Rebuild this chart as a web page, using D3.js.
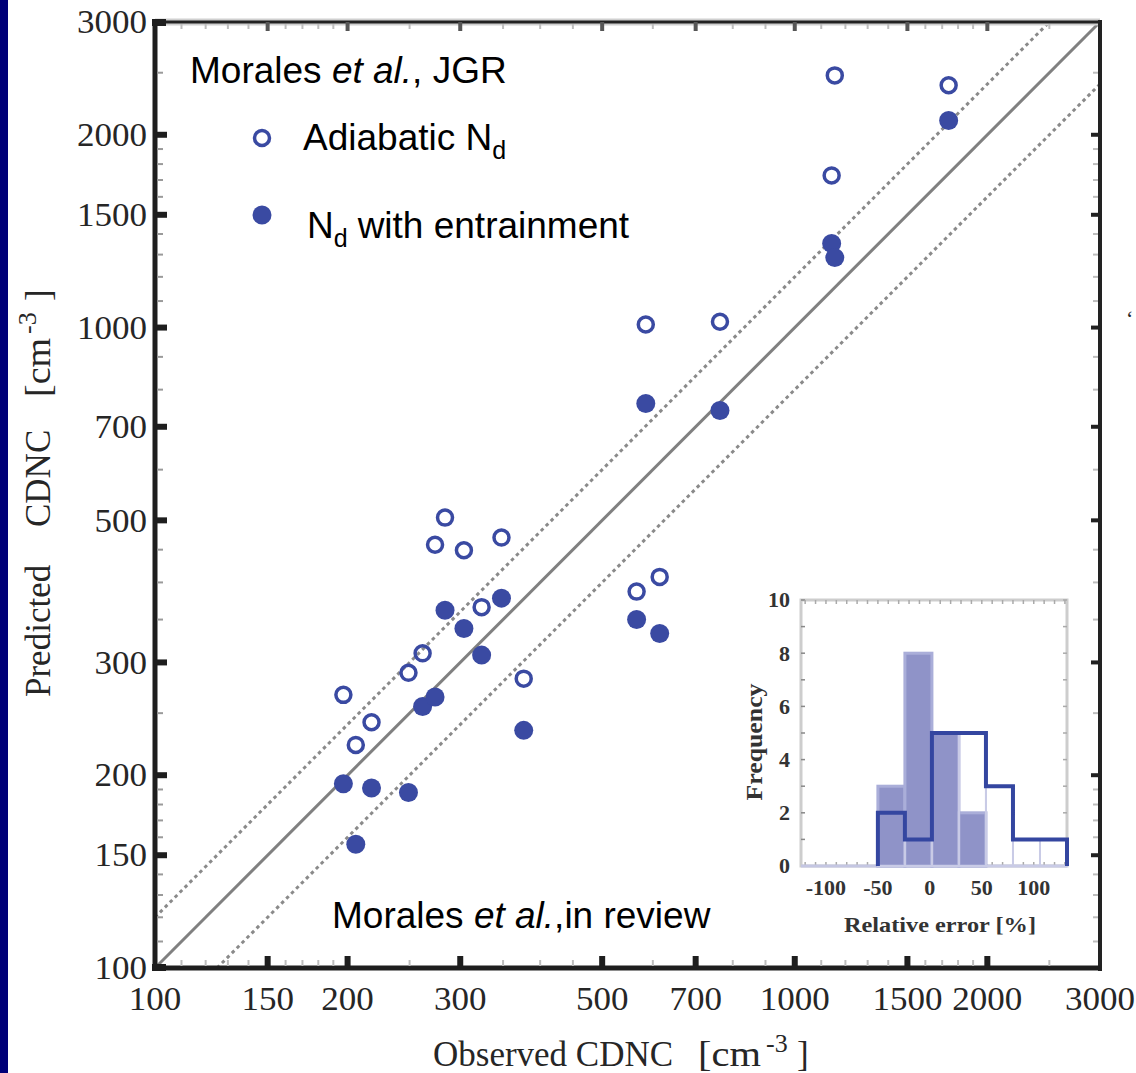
<!DOCTYPE html>
<html>
<head>
<meta charset="utf-8">
<script src="https://cdn.jsdelivr.net/npm/d3@7"></script>
<style>
  html, body { margin: 0; padding: 0; background: #fff; }
  svg { display: block; }
  .serif { font-family: "Liberation Serif", "DejaVu Serif", serif; }
  .sans { font-family: "Liberation Sans", Arial, sans-serif; }
</style>
</head>
<body>
<svg id="chart" width="1136" height="1073"></svg>
<script>
// Observed cloud droplet number concentration and the two predictions (cm^-3)
const observed    = [197, 206, 218, 249, 262, 274, 284, 304, 324, 348, 377, 566, 585, 615, 764, 1142, 1155, 1740];
const adiabatic   = [267, 223, 242, 289, 310, 458, 505, 449, 366, 470, 283, 387, 1011, 408, 1021, 1728, 2476, 2390];
const entrainment = [194, 156, 191, 188, 256, 265, 362, 339, 308, 378, 235, 350, 761, 333, 742, 1353, 1286, 2105];

// Log axis ticks
const majorTicks = [100, 150, 200, 300, 500, 700, 1000, 1500, 2000, 3000];
const minorTicks = [110, 120, 130, 140, 160, 170, 180, 190, 250, 350, 400, 450, 600, 800, 900,
                    1100, 1200, 1300, 1400, 1600, 1700, 1800, 1900, 2500];

// Relative error histogram (%)
const binEdges = [-50, -24, 2, 28, 54, 80, 106, 132];
const countsEntrainment = [3, 8, 5, 2, 0, 0, 0];
const countsAdiabatic   = [2, 1, 5, 5, 3, 1, 1];
const histXTicks = [-100, -50, 0, 50, 100];
const histYTicks = [0, 2, 4, 6, 8, 10];

// One-to-one line and the +/-20 % band
const bandFactors = [1.2, 0.8];

const blue = "#3a4aa2";
const svg = d3.select("#chart");

// slide edge
svg.append("rect").attr("x", 0).attr("y", 0).attr("width", 8).attr("height", 1073).attr("fill", "#000078");

const x = d3.scaleLog().domain([100, 3000]).range([155, 1100]);
const y = d3.scaleLog().domain([100, 3000]).range([968, 22]);

const plot = svg.append("g");

// reference lines
const lineGen = d3.line().x(d => x(d[0])).y(d => y(d[1]));
plot.append("path")
  .attr("d", lineGen([[100, 100], [3000, 3000]]))
  .attr("stroke", "#808080").attr("stroke-width", 3).attr("fill", "none");
bandFactors.forEach(f => {
  const x0 = Math.max(100, 100 / f), x1 = Math.min(3000, 3000 / f);
  plot.append("path")
    .attr("d", lineGen([[x0, x0 * f], [x1, x1 * f]]))
    .attr("stroke", "#8a8a8a").attr("stroke-width", 3)
    .attr("stroke-dasharray", "3.5 3.5").attr("fill", "none");
});

// axes frame
const frame = svg.append("g");
frame.append("line").attr("x1", x(100)).attr("x2", x(3000)).attr("y1", y(3000)).attr("y2", y(3000))
  .attr("stroke", "#d0d0d0").attr("stroke-width", 7);
frame.append("line").attr("x1", x(100)).attr("x2", x(3000)).attr("y1", y(3000)).attr("y2", y(3000))
  .attr("stroke", "#222").attr("stroke-width", 3);
frame.append("line").attr("x1", x(3000)).attr("x2", x(3000)).attr("y1", y(3000) - 2).attr("y2", y(100) + 3)
  .attr("stroke", "#222").attr("stroke-width", 4);
frame.append("line").attr("x1", x(100)).attr("x2", x(100)).attr("y1", y(3000) - 3).attr("y2", y(100) + 3)
  .attr("stroke", "#1e1e1e").attr("stroke-width", 5);
frame.append("line").attr("x1", x(100) - 3).attr("x2", x(3000)).attr("y1", y(100)).attr("y2", y(100))
  .attr("stroke", "#1e1e1e").attr("stroke-width", 5);

// minor ticks
minorTicks.forEach(v => {
  frame.append("line").attr("x1", x(v)).attr("x2", x(v)).attr("y1", y(100) - 2).attr("y2", y(100) - 8)
    .attr("stroke", "#bdbdbd").attr("stroke-width", 2);
  frame.append("line").attr("x1", x(v)).attr("x2", x(v)).attr("y1", y(3000) + 2).attr("y2", y(3000) + 7)
    .attr("stroke", "#bdbdbd").attr("stroke-width", 2);
  frame.append("line").attr("y1", y(v)).attr("y2", y(v)).attr("x1", x(100) + 2).attr("x2", x(100) + 8)
    .attr("stroke", "#9a9a9a").attr("stroke-width", 2);
  frame.append("line").attr("y1", y(v)).attr("y2", y(v)).attr("x1", x(3000) - 2).attr("x2", x(3000) - 7)
    .attr("stroke", "#bdbdbd").attr("stroke-width", 2);
});

// major ticks
const inner = majorTicks.slice(1, -1);
inner.forEach(v => {
  frame.append("line").attr("x1", x(v)).attr("x2", x(v)).attr("y1", y(100)).attr("y2", y(100) - 12)
    .attr("stroke", "#1e1e1e").attr("stroke-width", 6);
  frame.append("line").attr("y1", y(v)).attr("y2", y(v)).attr("x1", x(100)).attr("x2", x(100) + 12)
    .attr("stroke", "#1e1e1e").attr("stroke-width", 6);
  frame.append("line").attr("x1", x(v)).attr("x2", x(v)).attr("y1", y(3000)).attr("y2", y(3000) + 9)
    .attr("stroke", "#555").attr("stroke-width", 4);
  frame.append("line").attr("y1", y(v)).attr("y2", y(v)).attr("x1", x(3000)).attr("x2", x(3000) - 9)
    .attr("stroke", "#222").attr("stroke-width", 4);
});
frame.append("rect").attr("x", x(100) - 3).attr("y", y(3000) - 3).attr("width", 14).attr("height", 7).attr("fill", "#1e1e1e");
frame.append("rect").attr("x", x(100) - 3).attr("y", y(100) - 4).attr("width", 14).attr("height", 7).attr("fill", "#1e1e1e");

// tick labels
const tickFont = 33;
svg.append("g").selectAll("text").data(majorTicks).join("text")
  .attr("class", "serif").attr("font-size", tickFont).attr("fill", "#262626")
  .attr("text-anchor", "end").attr("x", 147).attr("y", d => y(d)).attr("dy", "0.34em")
  .attr("textLength", d => String(d).length * 17.5).attr("lengthAdjust", "spacingAndGlyphs")
  .text(d => d);
svg.append("g").selectAll("text").data(majorTicks).join("text")
  .attr("class", "serif").attr("font-size", tickFont).attr("fill", "#262626")
  .attr("text-anchor", "middle").attr("x", d => x(d)).attr("y", 1010)
  .attr("textLength", d => String(d).length * 17.5).attr("lengthAdjust", "spacingAndGlyphs")
  .text(d => d);

// axis titles, words placed along the axis
function title(g, pieces) {
  pieces.forEach(p => {
    const t = g.append("text").attr("class", "serif").attr("fill", "#262626")
      .attr("font-size", p.size || 35).attr("x", p.at).attr("y", p.dy || 0).text(p.text);
    if (p.len) t.attr("textLength", p.len).attr("lengthAdjust", "spacingAndGlyphs");
  });
}
const xTitle = svg.append("g").attr("transform", "translate(0,1066)");
title(xTitle, [
  { text: "Observed CDNC", at: 433 },
  { text: "[cm", at: 698, len: 63 },
  { text: "-3", at: 766, size: 26, dy: -14 },
  { text: "]", at: 797 }
]);
const yTitle = svg.append("g").attr("transform", "translate(50,0) rotate(-90)");
title(yTitle, [
  { text: "Predicted", at: -697 },
  { text: "CDNC", at: -527 },
  { text: "[cm", at: -397, len: 59 },
  { text: "-3", at: -334, size: 26, dy: -14 },
  { text: "]", at: -301 }
]);

// data points
const pts = svg.append("g");
pts.selectAll("circle.adiab").data(observed).join("circle").attr("class", "adiab")
  .attr("cx", d => x(d)).attr("cy", (d, i) => y(adiabatic[i])).attr("r", 7.5)
  .attr("fill", "none").attr("stroke", blue).attr("stroke-width", 3.5);
pts.selectAll("circle.entr").data(observed).join("circle").attr("class", "entr")
  .attr("cx", d => x(d)).attr("cy", (d, i) => y(entrainment[i])).attr("r", 9.5)
  .attr("fill", blue);

// legend and annotations
const sansSize = 37;
const t1 = svg.append("text").attr("class", "sans").attr("font-size", sansSize).attr("x", 190).attr("y", 83);
t1.append("tspan").text("Morales ");
t1.append("tspan").attr("font-style", "italic").text("et al.");
t1.append("tspan").text(", JGR");

svg.append("circle").attr("cx", 262).attr("cy", 138).attr("r", 7.5).attr("fill", "none").attr("stroke", blue).attr("stroke-width", 3.5);
svg.append("circle").attr("cx", 262).attr("cy", 215).attr("r", 9.5).attr("fill", blue);

const t2 = svg.append("text").attr("class", "sans").attr("font-size", sansSize).attr("x", 303).attr("y", 150);
t2.append("tspan").text("Adiabatic N");
t2.append("tspan").attr("font-size", 25).attr("dy", 9).text("d");

const t3 = svg.append("text").attr("class", "sans").attr("font-size", sansSize).attr("x", 307).attr("y", 238);
t3.append("tspan").text("N");
t3.append("tspan").attr("font-size", 25).attr("dy", 9).text("d");
t3.append("tspan").attr("dy", -9).attr("dx", 10).text("with entrainment");

const t4 = svg.append("text").attr("class", "sans").attr("font-size", sansSize).attr("x", 332).attr("y", 928);
t4.append("tspan").text("Morales ");
t4.append("tspan").attr("font-style", "italic").text("et al.");
t4.append("tspan").text(",in review");

// small glyph fragment near the right edge of the slide
svg.append("text").attr("class", "serif").attr("font-size", 22).attr("fill", "#222")
  .attr("x", 1126).attr("y", 326).text("‘");

// ---- inset histogram of relative error ----
const hx = d3.scaleLinear().domain([-124, 132]).range([801, 1067]);
const hy = d3.scaleLinear().domain([0, 10]).range([866, 600]);
const inset = svg.append("g");
inset.append("rect").attr("x", hx.range()[0]).attr("y", hy.range()[1])
  .attr("width", hx.range()[1] - hx.range()[0]).attr("height", hy.range()[0] - hy.range()[1])
  .attr("fill", "#fff").attr("stroke", "#cdcdcd").attr("stroke-width", 3);

// frame ticks
d3.range(0, 11).forEach(v => {
  inset.append("line").attr("x1", hx(-124)).attr("x2", hx(-124) + 4).attr("y1", hy(v)).attr("y2", hy(v))
    .attr("stroke", "#888").attr("stroke-width", 1.5);
  inset.append("line").attr("x1", hx(132)).attr("x2", hx(132) - 4).attr("y1", hy(v)).attr("y2", hy(v))
    .attr("stroke", "#aaa").attr("stroke-width", 1.5);
});
d3.range(-120, 132, 10).forEach(v => {
  inset.append("line").attr("x1", hx(v)).attr("x2", hx(v)).attr("y1", hy(10)).attr("y2", hy(10) + 4)
    .attr("stroke", "#aaa").attr("stroke-width", 1.5);
  inset.append("line").attr("x1", hx(v)).attr("x2", hx(v)).attr("y1", hy(0)).attr("y2", hy(0) - 4)
    .attr("stroke", "#aaa").attr("stroke-width", 1.5);
});
inset.append("line").attr("x1", hx(-124)).attr("x2", hx(132)).attr("y1", hy(0)).attr("y2", hy(0))
  .attr("stroke", "#c4c6e2").attr("stroke-width", 3);

const bins = countsEntrainment.map((c, i) => ({ x0: binEdges[i], x1: binEdges[i + 1], ce: c, ca: countsAdiabatic[i] }));

// entrainment: filled bars
inset.selectAll("rect.be").data(bins.filter(b => b.ce > 0)).join("rect").attr("class", "be")
  .attr("x", b => hx(b.x0)).attr("width", b => hx(b.x1) - hx(b.x0))
  .attr("y", b => hy(b.ce)).attr("height", b => hy(0) - hy(b.ce))
  .attr("fill", "#8f93c8").attr("stroke", "#aaaed9").attr("stroke-width", 3);

// adiabatic: faint bar edges plus a dark outline
inset.selectAll("rect.ba").data(bins).join("rect").attr("class", "ba")
  .attr("x", b => hx(b.x0)).attr("width", b => hx(b.x1) - hx(b.x0))
  .attr("y", b => hy(b.ca)).attr("height", b => hy(0) - hy(b.ca))
  .attr("fill", "none").attr("stroke", "#c9cbe6").attr("stroke-width", 2);
const stepPts = [[binEdges[0], 0]];
bins.forEach(b => { stepPts.push([b.x0, b.ca]); stepPts.push([b.x1, b.ca]); });
stepPts.push([binEdges[binEdges.length - 1], 0]);
inset.append("path")
  .attr("d", d3.line().x(d => hx(d[0])).y(d => hy(d[1]))(stepPts))
  .attr("fill", "none").attr("stroke", "#3446a0").attr("stroke-width", 4);

// inset labels
inset.selectAll("text.yl").data(histYTicks).join("text").attr("class", "serif yl")
  .attr("font-size", 22).attr("font-weight", "bold").attr("fill", "#333")
  .attr("text-anchor", "end").attr("x", 790).attr("y", d => hy(d)).attr("dy", "0.34em").text(d => d);
inset.selectAll("text.xl").data(histXTicks).join("text").attr("class", "serif xl")
  .attr("font-size", 22).attr("font-weight", "bold").attr("fill", "#333")
  .attr("text-anchor", "middle").attr("x", d => hx(d)).attr("y", 895).text(d => d);
inset.append("text").attr("class", "serif").attr("font-size", 22).attr("font-weight", "bold").attr("fill", "#333")
  .attr("text-anchor", "middle").attr("x", 940).attr("y", 932)
  .attr("textLength", 192).attr("lengthAdjust", "spacingAndGlyphs").text("Relative error [%]");
inset.append("text").attr("class", "serif").attr("font-size", 23).attr("font-weight", "bold").attr("fill", "#333")
  .attr("text-anchor", "middle").attr("transform", "translate(762,742) rotate(-90)")
  .attr("textLength", 117).attr("lengthAdjust", "spacingAndGlyphs").text("Frequency");
</script>
</body>
</html>
